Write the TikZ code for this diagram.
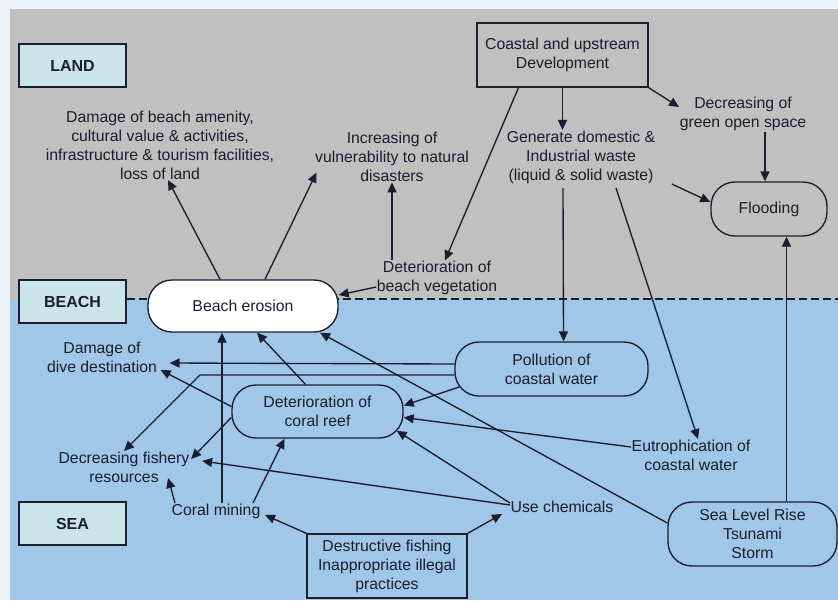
\documentclass[tikz,border=0pt]{standalone}
\usepackage{fontspec}
\setmainfont{Liberation Sans}
\usetikzlibrary{arrows.meta}
\definecolor{framecol}{RGB}{237,243,246}
\definecolor{landcol}{RGB}{192,192,192}
\definecolor{seacol}{RGB}{160,198,232}
\definecolor{zonecol}{RGB}{202,229,233}
\definecolor{inkcol}{RGB}{26,30,46}

\begin{document}
\begin{tikzpicture}[x=1pt,y=1pt,>={Triangle[length=10pt,width=9pt]},line width=1.35pt]
		\tikzstyle{every node}+=[inner sep=0pt,align=center,text=inkcol,font=\fontsize{15.8}{19}\selectfont]
		\tikzstyle{zone}=[draw=inkcol,fill=zonecol,minimum width=107pt,minimum height=43pt,font=\fontsize{16}{19}\selectfont\bfseries]
		\tikzstyle{pill}=[draw=inkcol,rounded corners=24pt]
		\tikzstyle{boxed}=[draw=inkcol]
		\useasboundingbox (0,0) rectangle (838,-600);
		\fill [framecol] (0,0) rectangle (838,-600);
		\fill [landcol] (10,-9) rectangle (838,-299);
		\fill [seacol] (10,-299) rectangle (838,-600);
		\draw (72.5,-65.5) node [zone] (land) {LAND};
		\draw (72.5,-301.5) node [zone] (beach) {BEACH};
		\draw (72.5,-523.5) node [zone] (sea) {SEA};
		\coordinate (shore) at (838,-299);
		\draw [inkcol,line width=2.8pt,dash pattern=on 8pt off 4pt] (beach.east |- shore) -- (shore);
		\draw (562.5,-55) node [boxed,minimum width=171pt,minimum height=64pt] (dev) {Coastal and upstream\\Development};
		\draw (743,-114) node (green) {Decreasing of\\green open space};
		\draw (581,-157) node (waste) {Generate domestic \&\\Industrial waste\\(liquid \& solid waste)};
		\draw (769,-209) node [pill,minimum width=116pt,minimum height=54pt] (flood) {Flooding};
		\draw (437,-278) node (vegdet) {Deterioration of\\beach vegetation};
		\draw (392,-157) node (vuln) {Increasing of\\vulnerability to natural\\disasters};
		\draw (160,-145) node (amenity) {Damage of beach amenity,\\cultural value \& activities,\\infrastructure \& tourism facilities,\\loss of land};
		\draw (243,-306) node [pill,fill=white,minimum width=190pt,minimum height=52pt] (erosion) {Beach erosion};
		\draw (102,-357) node (dive) {Damage of\\dive destination};
		\draw (317.5,-411.5) node [pill,minimum width=171pt,minimum height=53pt] (reef) {Deterioration of\\coral reef};
		\draw (551.5,-369) node [pill,minimum width=193pt,minimum height=54pt] (pollu) {Pollution of\\coastal water};
		\draw (691,-455) node (eutro) {Eutrophication of\\coastal water};
		\draw (124,-467) node (fish) {Decreasing fishery\\resources};
		\draw (216,-511) node (mining) {Coral mining};
		\draw (562,-507) node (chem) {Use chemicals};
		\draw (387,-566) node [boxed,minimum width=160pt,minimum height=64pt] (destr) {Destructive fishing\\Inappropriate illegal\\practices};
		\draw (752.5,-534) node [pill,minimum width=169pt,minimum height=64pt] (slr) {Sea Level Rise\\Tsunami\\Storm};
		\coordinate (bend) at (200,-375);
		\draw [inkcol,->] ([xshift=-23pt]erosion.north) -- ([xshift=8pt]amenity.south);
		\draw [inkcol,->] ([xshift=22pt]erosion.north) -- ([shift={(2pt,10pt)}]vuln.south west);
		\draw [inkcol,->] (vuln.south |- vegdet.north) -- (vuln.south);
		\draw [inkcol,->] ([yshift=-9pt]vegdet.west) -- ([yshift=11pt]erosion.east);
		\draw [inkcol,->] ([xshift=-44pt]dev.south) -- ([xshift=8pt]vegdet.north);
		\draw [inkcol,->] (dev.south) -- (dev.south |- waste.north);
		\draw [inkcol,->] (dev.south east) -- ([yshift=7pt]green.west);
		\draw [inkcol,->] ([xshift=22pt]green.south) -- ([xshift=-4pt]flood.north);
		\draw [inkcol,->] ([xshift=16pt]waste.south east) -- ([yshift=7pt]flood.west);
		\draw [inkcol,->] ([shift={(-18pt,-4pt)}]waste.south) -- ([xshift=12pt]pollu.north);
		\draw [inkcol,->] ([shift={(35pt,-4pt)}]waste.south) -- ([xshift=7pt]eutro.north);
		\draw [inkcol,->] ([xshift=34pt]slr.north) -- ([xshift=34pt]slr.north |- flood.south);
		\draw [inkcol,->] ([yshift=11pt]slr.west) -- ([xshift=77pt]erosion.south);
		\draw [inkcol,->] ([yshift=5pt]pollu.west) -- ([shift={(12pt,-6pt)}]dive.east);
		\draw [inkcol,->] ([yshift=-6pt]pollu.west) -- (bend) -- (fish.north);
		\draw [inkcol,->] ([shift={(5pt,-18pt)}]pollu.west) -- ([yshift=6pt]reef.east);
		\draw [inkcol,->] ([yshift=8pt]eutro.west) -- ([yshift=-6pt]reef.east);
		\draw [inkcol,->] ([yshift=4pt]chem.west) -- ([shift={(-7pt,8pt)}]reef.south east);
		\draw [inkcol,->] ([yshift=2pt]chem.west) -- ([shift={(12pt,6pt)}]fish.east);
		\draw [inkcol,->] (destr.north west) -- ([shift={(4pt,-4pt)}]mining.east);
		\draw [inkcol,->] (destr.north east) -- ([shift={(-8pt,-7pt)}]chem.west);
		\draw [inkcol,->] ([xshift=6pt]mining.north) -- ([xshift=-21pt]erosion.south);
		\draw [inkcol,->] ([xshift=37pt]mining.north) -- ([xshift=-33pt]reef.south);
		\draw [inkcol,->] ([xshift=-41pt]mining.north) -- ([shift={(-22pt,-11pt)}]fish.east);
		\draw [inkcol,->] ([xshift=-12pt]reef.north) -- ([xshift=14pt]erosion.south);
		\draw [inkcol,->] ([yshift=5pt]reef.west) -- ([shift={(3pt,3pt)}]dive.south east);
		\draw [inkcol,->] ([yshift=-6pt]reef.west) -- ([shift={(1pt,-8pt)}]fish.north east);
	\end{tikzpicture}
\end{document}
